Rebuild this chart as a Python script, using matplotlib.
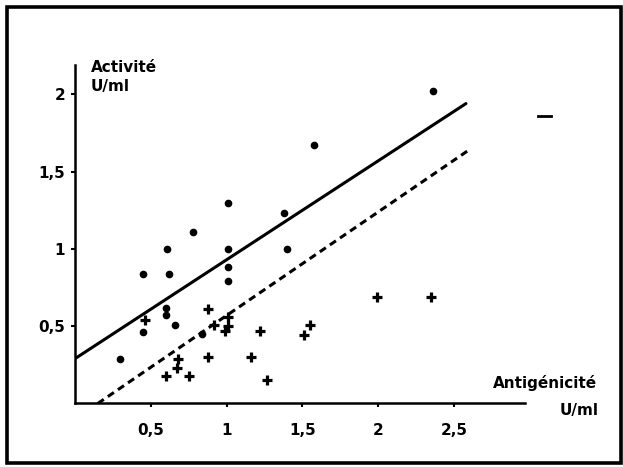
import matplotlib.pyplot as plt
from matplotlib.patches import Rectangle
from matplotlib.lines import Line2D

# points
dots_x = [0.30, 0.45, 0.45, 0.61, 0.62, 0.60, 0.60, 0.66, 0.78, 0.84,
          1.01, 1.01, 1.01, 1.01, 1.38, 1.40, 1.58, 2.36]
dots_y = [0.29, 0.84, 0.46, 1.00, 0.84, 0.62, 0.57, 0.51, 1.11, 0.45,
          1.30, 1.00, 0.88, 0.79, 1.23, 1.00, 1.67, 2.02]
plus_x = [0.46, 0.88, 0.92, 1.01, 1.01, 0.99, 1.22, 0.68, 0.67, 0.60,
          0.75, 0.88, 1.16, 1.27, 1.99, 2.35, 1.55, 1.51]
plus_y = [0.54, 0.61, 0.51, 0.56, 0.50, 0.47, 0.47, 0.29, 0.23, 0.18,
          0.18, 0.30, 0.30, 0.15, 0.69, 0.69, 0.51, 0.44]

solid_x = [0.0, 2.58]
solid_y = [0.29, 1.94]
dash_x = [0.15, 2.60]
dash_y = [0.0, 1.64]

ticks = [0.5, 1, 1.5, 2, 2.5]
x_ticklabels = ['0,5', '1', '1,5', '2', '2,5']
y_ticks = [0.5, 1, 1.5, 2]
y_ticklabels = ['0,5', '1', '1,5', '2']

fig = plt.figure(figsize=(6.23, 4.67), dpi=100)
ax = fig.add_axes([0.1204, 0.136, 0.7224, 0.725])

ax.plot(solid_x, solid_y, color='black', lw=2.2, solid_capstyle='round')
ax.plot(dash_x, dash_y, color='black', lw=2.2, dashes=(2.4, 1.6))
ax.plot(dots_x, dots_y, 'o', color='black', ms=4.5, ls='none')
ax.plot(plus_x, plus_y, '+', color='black', ms=7, mew=2.3, ls='none')

ax.set_xlim(0, 2.97)
ax.set_ylim(0, 2.19)
ax.set_xticks(ticks)
ax.set_xticklabels(x_ticklabels)
ax.set_yticks(y_ticks)
ax.set_yticklabels(y_ticklabels)

for s in ['top', 'right']:
    ax.spines[s].set_visible(False)
for s in ['left', 'bottom']:
    ax.spines[s].set_linewidth(1.8)

ax.tick_params(axis='x', length=3, width=1.5, pad=11, labelsize=11)
ax.tick_params(axis='y', length=3, width=1.5, pad=4, labelsize=11)
for lab in ax.get_xticklabels() + ax.get_yticklabels():
    lab.set_fontweight('bold')

fig.text(91 / 623, 1 - 68 / 467, 'Activité', fontsize=11, fontweight='bold',
         ha='left', va='center')
fig.text(91 / 623, 1 - 86 / 467, 'U/ml', fontsize=11, fontweight='bold',
         ha='left', va='center')
fig.text(597 / 623, 1 - 383 / 467, 'Antigénicité', fontsize=11,
         fontweight='bold', ha='right', va='center')
fig.text(599 / 623, 1 - 410 / 467, 'U/ml', fontsize=11, fontweight='bold',
         ha='right', va='center')

# stray dash on the scan
fig.add_artist(Line2D([538 / 623, 551 / 623], [1 - 116 / 467, 1 - 116 / 467],
                      transform=fig.transFigure, color='black', lw=2))

# scanned frame around the figure
fig.patches.append(Rectangle((0.011, 0.009), 0.986, 0.977,
                             transform=fig.transFigure, fill=False,
                             lw=2.6, ec='black'))

fig.savefig('out.png', dpi=100)
